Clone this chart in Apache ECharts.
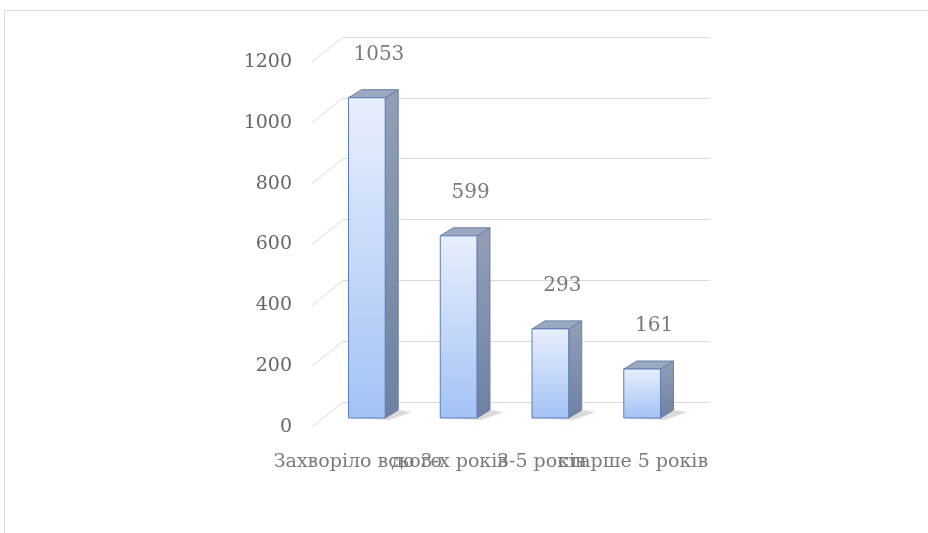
<!DOCTYPE html>
<html>
<head>
<meta charset="utf-8">
<script src="https://cdn.jsdelivr.net/npm/echarts@6/dist/echarts.min.js"></script>
<style>
  html, body { margin: 0; padding: 0; background: #fff; }
  #chart { width: 928px; height: 533px; }
</style>
</head>
<body>
<div id="chart"></div>
<script>
const categories = ['Захворіло всього', 'до 3-х років', '3-5 років', 'старше 5 років']
const values = [1053, 599, 293, 161]
const yTicks = [0, 200, 400, 600, 800, 1000, 1200]

// depth of the 3d box: back wall offset, and where the bars stand in it
const DEPTH_X = 31
const DEPTH_Y = -25
const BAR_FX = 9
const BAR_FY = -9
const SIDE_X = 13
const SIDE_Y = -8
const FONT = '"DejaVu Serif", "Liberation Serif", serif'

const chart = echarts.init(document.getElementById('chart'), null, { renderer: 'canvas' })

function renderBar(params, api) {
  const i = api.value(0)
  const v = api.value(1)
  const p = api.coord([i, v])
  const b = api.coord([i, 0])
  const bw = api.size([1, 0])[0]
  const w = bw * 0.4
  const cx = p[0] + BAR_FX
  const x1 = cx - w / 2
  const x2 = x1 + w
  const top = p[1] + BAR_FY
  const bot = b[1] + BAR_FY
  return {
    type: 'group',
    children: [
      {
        type: 'polygon',
        shape: { points: [[x1 + 2, bot], [x2 + 4, bot + 2], [x2 + SIDE_X + 14, bot + SIDE_Y + 2], [x2 + SIDE_X, bot + SIDE_Y]] },
        style: { fill: 'rgba(0,0,0,0.12)', shadowBlur: 5, shadowColor: 'rgba(0,0,0,0.25)' }
      },
      {
        type: 'polygon',
        shape: { points: [[x2, top], [x2 + SIDE_X, top + SIDE_Y], [x2 + SIDE_X, bot + SIDE_Y], [x2, bot]] },
        style: {
          fill: new echarts.graphic.LinearGradient(0, 0, 0, 1, [
            { offset: 0, color: '#929fb6' },
            { offset: 1, color: '#6e81a3' }
          ]),
          stroke: '#6a7fa6', lineWidth: 1
        }
      },
      {
        type: 'polygon',
        shape: { points: [[x1, top], [x1 + SIDE_X, top + SIDE_Y], [x2 + SIDE_X, top + SIDE_Y], [x2, top]] },
        style: { fill: '#9aa8c0', stroke: '#6a7fa6', lineWidth: 1 }
      },
      {
        type: 'rect',
        shape: { x: x1, y: top, width: w, height: bot - top },
        style: {
          fill: new echarts.graphic.LinearGradient(0, 0, 0, 1, [
            { offset: 0, color: '#e8effc' },
            { offset: 1, color: '#a3c2f5' }
          ]),
          stroke: '#5b7cbc', lineWidth: 1
        }
      },
      {
        type: 'text',
        style: {
          x: cx + 12, y: top - 43, text: String(v),
          fill: '#7a7a7a', font: '20px ' + FONT,
          align: 'center', verticalAlign: 'middle'
        }
      }
    ]
  }
}

function renderFloorLine(params, api) {
  const v = api.value(1)
  const p = api.coord([0, v])
  const bw = api.size([1, 0])[0]
  const x0 = p[0] - bw / 2
  return {
    type: 'line',
    shape: { x1: x0, y1: p[1], x2: x0 + DEPTH_X, y2: p[1] + DEPTH_Y },
    style: { stroke: '#d9d9d9', lineWidth: 1 }
  }
}

chart.setOption({
  animation: false,
  backgroundColor: '#fff',
  graphic: [{
    type: 'rect',
    shape: { x: 4.5, y: 10.5, width: 1000, height: 600 },
    style: { fill: 'none', stroke: '#d9d9d9', lineWidth: 1 },
    silent: true
  }],
  grid: [
    { left: 312, right: 249, top: 62, bottom: 106 },
    { left: 312 + DEPTH_X, right: 249 - DEPTH_X, top: 62 + DEPTH_Y, bottom: 106 - DEPTH_Y }
  ],
  xAxis: [
    {
      type: 'category', gridIndex: 0, data: categories,
      axisLine: { show: false }, axisTick: { show: false },
      axisLabel: { interval: 0, color: '#7a7a7a', fontFamily: FONT, fontSize: 19, margin: 26 }
    },
    { type: 'category', gridIndex: 1, data: categories, show: false }
  ],
  yAxis: [
    {
      type: 'value', gridIndex: 0, min: 0, max: 1200, interval: 200,
      splitLine: { show: false }, axisLine: { show: false }, axisTick: { show: false },
      axisLabel: { color: '#666', fontFamily: FONT, fontSize: 19, margin: 20, formatter: v => String(v) }
    },
    {
      type: 'value', gridIndex: 1, min: 0, max: 1200, interval: 200,
      axisLabel: { show: false }, axisLine: { show: false }, axisTick: { show: false },
      splitLine: { lineStyle: { color: '#d9d9d9', width: 1 } }
    }
  ],
  series: [
    {
      type: 'custom', xAxisIndex: 0, yAxisIndex: 0,
      renderItem: renderFloorLine, silent: true,
      data: yTicks.map(v => [0, v]), z: 1
    },
    {
      type: 'custom', xAxisIndex: 0, yAxisIndex: 0,
      renderItem: renderBar,
      data: values.map((v, i) => [i, v]), z: 3
    }
  ]
})
</script>
</body>
</html>
